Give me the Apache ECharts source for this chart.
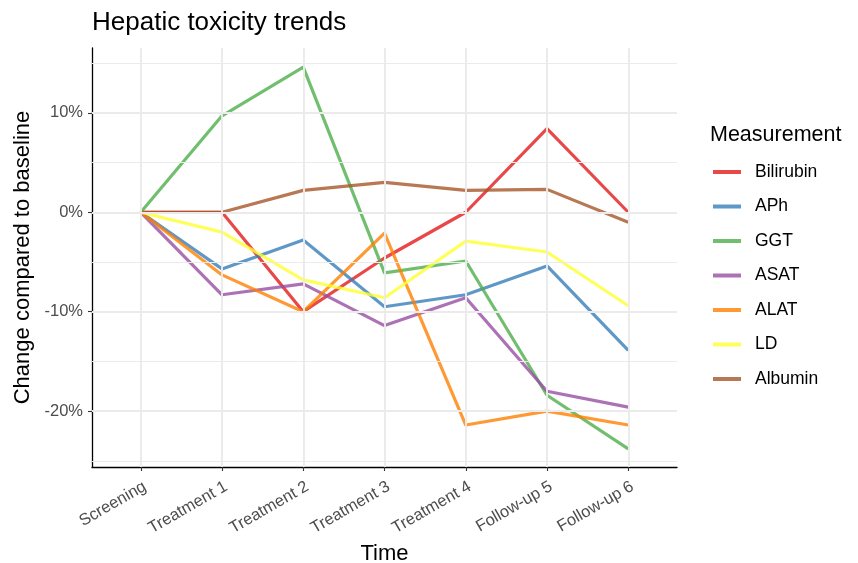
<!DOCTYPE html>
<html><head><meta charset="utf-8">
<script src="https://cdn.jsdelivr.net/npm/echarts@6/dist/echarts.min.js"></script>
<style>html,body{margin:0;padding:0;background:#fff}#c{width:858px;height:563px}</style>
</head><body><div id="c"></div>
<script>
const categories = ['Screening','Treatment 1','Treatment 2','Treatment 3','Treatment 4','Follow-up 5','Follow-up 6'];
const seriesNames = ['Bilirubin','APh','GGT','ASAT','ALAT','LD','Albumin'];
const bilirubin = [0, 0, -10.0, -4.6, 0, 8.4, 0];
const aph       = [0, -5.7, -2.8, -9.5, -8.3, -5.4, -13.9];
const ggt       = [0, 9.7, 14.6, -6.1, -4.9, -18.4, -23.8];
const asat      = [0, -8.3, -7.2, -11.4, -8.6, -18.0, -19.6];
const alat      = [0, -6.3, -10.0, -2.1, -21.4, -20.0, -21.4];
const ld        = [0, -2.0, -6.8, -8.6, -2.9, -4.0, -9.4];
const albumin   = [0, 0, 2.2, 3.0, 2.2, 2.3, -1.0];
const yTicks = [-20, -10, 0, 10];
const yMinor = [-25, -15, -5, 5, 15];

const values = [bilirubin, aph, ggt, asat, alat, ld, albumin];
const colors = ['rgba(228,26,28,0.8)','rgba(55,126,184,0.8)','rgba(77,175,74,0.8)','rgba(152,78,163,0.8)','rgba(255,127,0,0.8)','rgba(255,255,51,0.8)','rgba(166,86,40,0.8)'];
const catIdx = categories.map((c,i)=>i);
const font = "'Liberation Sans', Arial, sans-serif";

const gridSeries = {
  type: 'line', data: [], z: 1, silent: true,
  markLine: {
    silent: true, symbol: ['none','none'], animation: false,
    label: {show: false},
    data: [
      ...yMinor.map(v => ({yAxis: v, lineStyle: {color: '#EBEBEB', width: 1.1, type: 'solid'}})),
      ...yTicks.map(v => ({yAxis: v, lineStyle: {color: '#EBEBEB', width: 1.9, type: 'solid'}})),
      ...catIdx.map(v => ({xAxis: v, lineStyle: {color: '#EBEBEB', width: 1.9, type: 'solid'}}))
    ]
  }
};

const option = {
  animation: false,
  textStyle: {fontFamily: font},
  title: [
    {text: 'Hepatic toxicity trends', left: 87, top: 5, textStyle: {fontFamily: font, fontSize: 26, fontWeight: 'normal', color: '#000'}},
    {text: 'Measurement', left: 705, top: 119, textStyle: {fontFamily: font, fontSize: 21.5, fontWeight: 'normal', color: '#000'}}
  ],
  legend: {
    orient: 'vertical', left: 708, top: 158,
    data: seriesNames, icon: 'rect', itemWidth: 28, itemHeight: 4, itemGap: 16.5,
    textStyle: {fontFamily: font, fontSize: 17.5, color: '#000', lineHeight: 18, padding: [0,0,0,9]}
  },
  grid: {left: 92, right: 181, top: 48, bottom: 96, containLabel: false, outerBoundsMode: 'none'},
  xAxis: {
    type: 'value', min: -0.6, max: 6.6,
    name: 'Time', nameLocation: 'middle', nameGap: 74,
    nameTextStyle: {fontFamily: font, fontSize: 22, color: '#000'},
    axisLine: {show: true, onZero: false, lineStyle: {color: '#000', width: 1.3}},
    axisTick: {show: true, length: 4, customValues: catIdx, lineStyle: {color: '#333', width: 1.1}},
    axisLabel: {customValues: catIdx, rotate: 30, margin: 11, fontSize: 16.5, color: '#4D4D4D', fontFamily: font,
      verticalAlign: 'top', align: 'right',
      formatter: v => categories[Math.round(v)]},
    splitLine: {show: false}
  },
  yAxis: {
    type: 'value', min: -25.62, max: 16.52,
    name: 'Change compared to baseline', nameLocation: 'middle', nameGap: 57,
    nameTextStyle: {fontFamily: font, fontSize: 22, color: '#000'},
    axisLine: {show: true, onZero: false, lineStyle: {color: '#000', width: 1.3}},
    axisTick: {show: true, length: 4, customValues: yTicks, lineStyle: {color: '#333', width: 1.1}},
    axisLabel: {customValues: yTicks, margin: 9, fontSize: 16.5, color: '#4D4D4D', fontFamily: font,
      formatter: v => Math.round(v) + '%'},
    splitLine: {show: false}
  },
  series: [gridSeries].concat(seriesNames.map((n, k) => ({
    name: n, type: 'line', z: 3,
    data: values[k].map((v, i) => [i, v]),
    showSymbol: false, symbol: 'none',
    color: colors[k],
    lineStyle: {color: colors[k], width: 3.2, join: 'round', cap: 'butt'},
    itemStyle: {color: colors[k]}
  })))
};
const chart = echarts.init(document.getElementById('c'), null, {renderer: 'canvas'});
chart.setOption(option);
</script></body></html>
